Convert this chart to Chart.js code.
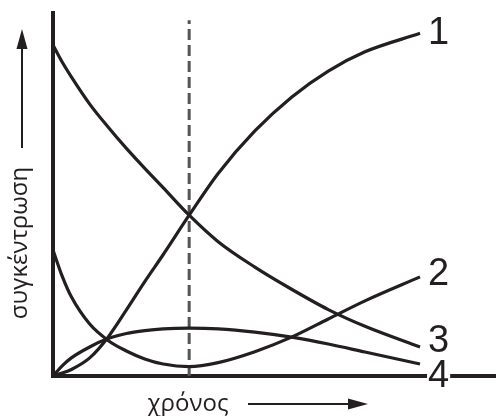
<!DOCTYPE html>
<html>
<head>
<meta charset="utf-8">
<script src="https://cdn.jsdelivr.net/npm/chart.js@4.4.1/dist/chart.umd.min.js"></script>
<style>
  html, body { margin: 0; padding: 0; background: #fff; }
  canvas { display: block; }
</style>
</head>
<body>
<canvas id="chart0" width="496" height="416"></canvas>
<script>
// time points (arbitrary units) and concentrations
var timeGrid = [0, 0.25, 0.5, 1, 1.5, 2, 2.5, 3, 3.71, 4.5, 5.5, 6.5, 7.5, 8.5, 10];
var curve1 = [0, 0.8, 1.8, 5.0, 10.7, 18.2, 26.0, 33.4, 44.3, 55.8, 67.5, 76.8, 84.0, 89.3, 94.4];
var curve2 = [34.7, 27.5, 21.8, 14.3, 9.8, 6.9, 4.7, 3.3, 2.6, 3.7, 6.7, 10.7, 15.7, 20.7, 27.3];
var curve3 = [91.2, 86.5, 82.4, 74.9, 68.6, 62.7, 57.2, 51.9, 44.3, 37.0, 30.0, 23.9, 18.3, 13.7, 8.0];
var curve4 = [0, 2.8, 5.0, 8.0, 10.3, 11.7, 12.5, 13.0, 13.2, 13.0, 12.1, 10.7, 8.8, 6.6, 3.3];
var curveLabels = ['1', '2', '3', '4'];
var markTime = 3.71;     // dashed line
var markTop = 98;
var xTitle = 'χρόνος';
var yTitle = 'συγκέντρωση';

var ink = '#231f20';

function points(values) {
    return values.map(function (v, i) { return { x: timeGrid[i], y: v }; });
}

function curveDataset(values) {
    return {
        data: points(values),
        borderColor: ink,
        borderWidth: 3.2,
        pointRadius: 0,
        cubicInterpolationMode: 'monotone',
        fill: false,
        order: 0
    };
}

function arrow(ctx, x1, y1, x2, y2) {
    var a = Math.atan2(y2 - y1, x2 - x1);
    var len = 20, half = 5.5;
    ctx.beginPath();
    ctx.moveTo(x1, y1);
    ctx.lineTo(x2 - Math.cos(a) * len, y2 - Math.sin(a) * len);
    ctx.stroke();
    ctx.beginPath();
    ctx.moveTo(x2, y2);
    ctx.lineTo(x2 - Math.cos(a) * len - Math.sin(a) * half, y2 - Math.sin(a) * len + Math.cos(a) * half);
    ctx.lineTo(x2 - Math.cos(a) * len + Math.sin(a) * half, y2 - Math.sin(a) * len - Math.cos(a) * half);
    ctx.closePath();
    ctx.fill();
}

var decorations = {
    id: 'decorations',
    afterDraw: function (chart) {
        var ctx = chart.ctx;
        var area = chart.chartArea;
        ctx.save();
        ctx.fillStyle = ink;
        ctx.strokeStyle = ink;
        ctx.lineWidth = 2;

        // axis titles with arrows
        ctx.font = '24px "Open Sans"';
        ctx.textAlign = 'center';
        ctx.textBaseline = 'alphabetic';
        ctx.fillText(xTitle, 188, 411);
        arrow(ctx, 248, 404, 368, 404);

        ctx.save();
        ctx.translate(27, 243);
        ctx.rotate(-Math.PI / 2);
        ctx.fillText(yTitle, 0, 0);
        ctx.restore();
        arrow(ctx, 22, 148, 22, 29);

        // curve numbers at the right end of each curve
        var nudge = { '2': -2, '3': -5 };
        ctx.font = '38px "Liberation Sans"';
        ctx.textAlign = 'left';
        ctx.textBaseline = 'middle';
        for (var i = 0; i < 4; i++) {
            var meta = chart.getDatasetMeta(i);
            var last = meta.data[meta.data.length - 1];
            var label = curveLabels[i];
            var x = last.x + 8;
            var y = last.y + (nudge[label] || 0);
            if (label === '4') y = area.bottom + 1;
            var m = ctx.measureText(label);
            ctx.fillStyle = '#fff';
            ctx.fillRect(x - 1, y - m.actualBoundingBoxAscent - 1,
                m.width + 2, m.actualBoundingBoxAscent + m.actualBoundingBoxDescent + 2);
            ctx.fillStyle = ink;
            ctx.fillText(label, x, y);
        }
        ctx.restore();
    }
};

var chart = new Chart(document.getElementById('chart0').getContext('2d'), {
    type: 'line',
    data: {
        datasets: [
            curveDataset(curve1),
            curveDataset(curve2),
            curveDataset(curve3),
            curveDataset(curve4),
            {
                data: [{ x: markTime, y: 0 }, { x: markTime, y: markTop }],
                borderColor: '#555',
                borderWidth: 3,
                borderDash: [11, 5],
                pointRadius: 0,
                tension: 0,
                order: 1
            }
        ]
    },
    options: {
        responsive: false,
        animation: false,
        devicePixelRatio: 1,
        layout: { padding: { left: 53, top: 13, right: 0, bottom: 40 } },
        plugins: {
            legend: { display: false },
            tooltip: { enabled: false }
        },
        scales: {
            x: {
                type: 'linear',
                min: 0,
                max: 12.07,
                grid: { display: false, drawTicks: false },
                ticks: { display: false },
                border: { display: true, color: ink, width: 4 },
                afterFit: function (s) { s.height = 0; }
            },
            y: {
                type: 'linear',
                min: 0,
                max: 100,
                grid: { display: false, drawTicks: false },
                ticks: { display: false },
                border: { display: true, color: ink, width: 4 },
                afterFit: function (s) { s.width = 0; }
            }
        }
    },
    plugins: [decorations]
});
</script>
</body>
</html>
